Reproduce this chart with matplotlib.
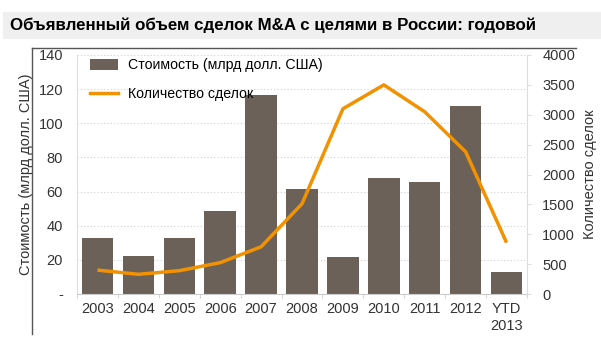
import matplotlib
matplotlib.use("Agg")
import matplotlib.pyplot as plt
from matplotlib.lines import Line2D
from matplotlib.patches import Patch, Rectangle
import numpy as np

plt.rcParams['font.family'] = ['Liberation Sans', 'DejaVu Sans']

categories = ["2003", "2004", "2005", "2006", "2007", "2008", "2009", "2010", "2011", "2012", "YTD\n2013"]
value_bn = [33, 22.5, 33, 48.5, 116.5, 61.5, 21.5, 68, 65.5, 110, 13]
deal_count = [400, 330, 390, 525, 790, 1510, 3100, 3500, 3050, 2380, 860]
left_ticks = [0, 20, 40, 60, 80, 100, 120, 140]
left_tick_labels = ["-", "20", "40", "60", "80", "100", "120", "140"]
right_ticks = [0, 500, 1000, 1500, 2000, 2500, 3000, 3500, 4000]

title = "Объявленный объем сделок M&A с целями в России: годовой"
bar_label = "Стоимость (млрд долл. США)"
line_label = "Количество сделок"

bar_color = "#6b6158"
line_color = "#f39200"
text_color = "#333333"

W, H = 601, 354
fig = plt.figure(figsize=(W / 100, H / 100), dpi=100)
fig.patch.set_facecolor("white")

# title band
fig.patches.append(Rectangle((3 / W, 1 - 39 / H), 598 / W, 27 / H, transform=fig.transFigure,
                             facecolor="#efefef", edgecolor="none", zorder=0))
fig.text(10 / W, 1 - 25 / H, title, fontsize=12.2, fontweight="bold", color="black",
         va="center", ha="left")
# frame lines
fig.add_artist(Line2D([32 / W, 576 / W], [1 - 48 / H, 1 - 48 / H], transform=fig.transFigure,
                      color="#555555", lw=1.0))
fig.add_artist(Line2D([32 / W, 32 / W], [1 - 48 / H, 1 - 334 / H], transform=fig.transFigure,
                      color="#555555", lw=1.0))

ax = fig.add_axes([77 / W, 1 - 294 / H, 450 / W, 239 / H])
x = np.arange(len(categories))
ax.bar(x, value_bn, width=0.77, color=bar_color, zorder=2)
ax.set_xlim(-0.5, len(categories) - 0.5)
ax.set_ylim(0, 140)
ax.set_yticks(left_ticks)
ax.set_yticklabels(left_tick_labels)
ax.set_xticks(x)
ax.set_xticklabels(categories)
ax.set_xticks(np.arange(-0.5, len(categories), 1), minor=True)
ax.tick_params(axis="x", which="major", length=0, labelsize=10.5, colors=text_color, pad=6)
ax.tick_params(axis="x", which="minor", length=3, color="#cccccc", direction="out")
ax.tick_params(axis="y", length=0, labelsize=10.5, colors=text_color, pad=10)
ax.grid(axis="y", color="#d0d0d0", linestyle=(0, (1, 2)), lw=0.8, zorder=0)
for s in ["top", "right"]:
    ax.spines[s].set_visible(False)
ax.spines["left"].set_color("#dddddd")
ax.spines["bottom"].set_color("#cccccc")
ax.set_ylabel(bar_label, fontsize=10.5, color=text_color, labelpad=4)

ax2 = ax.twinx()
ax2.plot(x, deal_count, color=line_color, lw=2.5, zorder=3, solid_capstyle="butt")
ax2.set_ylim(0, 4000)
ax2.set_yticks(right_ticks)
ax2.tick_params(axis="y", length=3, color="#dddddd", labelsize=10.5, colors=text_color, pad=8)
for s in ["top", "left", "bottom"]:
    ax2.spines[s].set_visible(False)
ax2.spines["right"].set_color("#dddddd")
ax2.set_ylabel(line_label, fontsize=10.5, color=text_color, labelpad=6)

handles = [Patch(facecolor=bar_color, edgecolor="none"),
           Line2D([0], [0], color=line_color, lw=2.5)]
leg = ax.legend(handles, [bar_label, line_label], loc="upper left",
                bbox_to_anchor=(0.0, 1.04), frameon=False, fontsize=10.2,
                handlelength=2.0, handleheight=0.8, labelspacing=1.05, handletextpad=0.7)
for t in leg.get_texts():
    t.set_color("black")

fig.savefig("out.png", dpi=100)
